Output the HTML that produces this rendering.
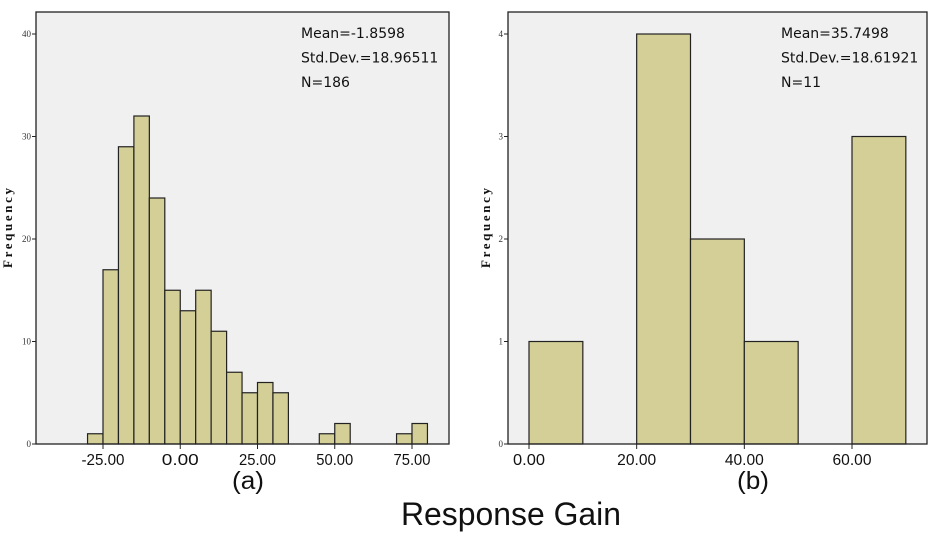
<!DOCTYPE html>
<html><head><meta charset="utf-8"><style>
body{margin:0;background:#fff;}
svg{display:block;font-family:"Liberation Sans","DejaVu Sans",sans-serif;}
</style></head><body>
<svg width="945" height="542" viewBox="0 0 945 542">
<g id="root"></g>
</svg>
<script>
const binsA = [-30,-25,-20,-15,-10,-5,0,5,10,15,20,25,30,35,40,45,50,55,60,65,70,75];
const countsA = [1,17,29,32,24,15,13,15,11,7,5,6,5,0,0,1,2,0,0,0,1,2];
const xTicksA = [-25,0,25,50,75];
const yTicksA = [0,10,20,30,40];
const statsA = ["Mean=-1.8598","Std.Dev.=18.96511","N=186"];
const binsB = [0,10,20,30,40,50,60];
const countsB = [1,0,4,2,1,0,3];
const xTicksB = [0,20,40,60];
const yTicksB = [0,1,2,3,4];
const statsB = ["Mean=35.7498","Std.Dev.=18.61921","N=11"];

const NS="http://www.w3.org/2000/svg";
const root=document.getElementById('root');
function mk(tag,attrs,parent){const e=document.createElementNS(NS,tag);for(const k in attrs)e.setAttribute(k,attrs[k]);(parent||root).appendChild(e);return e;}

function panel(cfg){
  const g=mk('g',{});
  
  
  const {x0,x1,y0,y1}=cfg.frame;
  const bg=mk('rect',{x:x0,y:y0,width:x1-x0,height:y1-y0,fill:'#f0f0f0',stroke:'none'},g);
  
  
  const xs=v=>cfg.xa+(v-cfg.va)*(cfg.xb-cfg.xa)/(cfg.vb-cfg.va);
  const ys=v=>y1-(v/cfg.ymax)*(y1-cfg.yTop);
  cfg.bins.forEach((b,i)=>{
    const c=cfg.counts[i]; if(!c) return;
    const r=mk('rect',{x:xs(b),y:ys(c),width:xs(b+cfg.bw)-xs(b),height:y1-ys(c),fill:'#d3cf97',stroke:'#222','stroke-width':1.2},g);
    
    
  });
  mk('rect',{x:x0,y:y0,width:x1-x0,height:y1-y0,fill:'none',stroke:'#222','stroke-width':1.3},g);
  cfg.yTicks.forEach(t=>{
    const y=ys(t);
    mk('line',{x1:x0-4,x2:x0,y1:y,y2:y,stroke:'#222'},g);
    const tx=mk('text',{x:x0-5,y:y+3,'font-size':9,'text-anchor':'end','font-family':'Liberation Serif,serif',fill:'#333'},g);
    tx.textContent=t;
    
    
  });
  cfg.xTicks.forEach(t=>{
    const x=xs(t);
    mk('line',{x1:x,x2:x,y1:y1,y2:y1+5,stroke:'#222'},g);
    const tx=mk('text',{x:x,y:y1+21,'font-size':16,'text-anchor':'middle',fill:'#111','textLength':cfg.tl(t),'lengthAdjust':'spacingAndGlyphs'},g);
    tx.textContent=t.toFixed(2);
    
    
  });
  cfg.stats.forEach((s,i)=>{
    const tx=mk('text',{x:cfg.sx,y:38+i*24.5,'font-size':14,fill:'#111','font-family':'DejaVu Sans,sans-serif'},g);
    tx.textContent=s;
    
    
  });
  const fl=mk('text',{x:0,y:0,'font-size':13,'font-weight':'bold','font-family':'Liberation Serif,serif','text-anchor':'middle',textLength:80,lengthAdjust:'spacing',transform:`translate(${cfg.fx},228) rotate(-90)`,fill:'#111'},g);
  fl.textContent='Frequency';
  
  
  const lab=mk('text',{x:cfg.lx,y:489,'font-size':25,'text-anchor':'middle',fill:'#111',textLength:32,lengthAdjust:'spacingAndGlyphs'},g);
  lab.textContent=cfg.label;
  
  
}
panel({name:'histogram-a',frame:{x0:36,x1:449,y0:12,y1:444},xa:103,xb:412,va:-25,vb:75,yTop:34,ymax:40,
  bins:binsA,counts:countsA,bw:5,xTicks:xTicksA,yTicks:yTicksA,stats:statsA,sx:301,fx:12,lx:248,label:'(a)',
  tl:t=>t<0?43:37});
panel({name:'histogram-b',frame:{x0:508,x1:927,y0:12,y1:444},xa:529,xb:852,va:0,vb:60,yTop:34,ymax:4,
  bins:binsB,counts:countsB,bw:10,xTicks:xTicksB,yTicks:yTicksB,stats:statsB,sx:781,fx:490,lx:753,label:'(b)',
  tl:t=>t===0?32:39});
const xt=mk('text',{x:511,y:525,'font-size':32,'text-anchor':'middle',fill:'#111',textLength:220,lengthAdjust:'spacingAndGlyphs'});
xt.textContent='Response Gain';


</script>
</body></html>
